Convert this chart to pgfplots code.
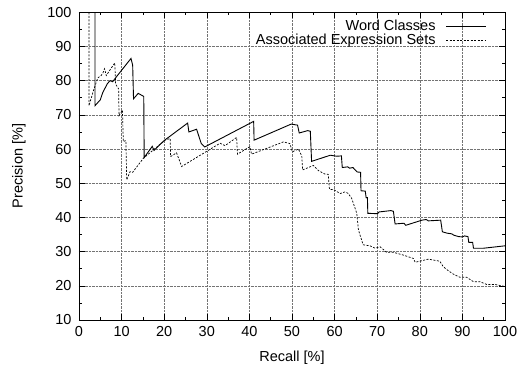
\documentclass[border=0pt]{standalone}
\usepackage{pgfplots}
\pgfplotsset{compat=1.18}
\usepackage{fontspec}
\setmainfont{Liberation Sans}
\begin{document}
\begin{tikzpicture}
\begin{axis}[
  scale only axis, width=426bp, height=307.7bp,
  xmin=0, xmax=100, ymin=10, ymax=100,
  xtick distance=10, ytick distance=10, minor tick num=1,
  tick align=inside,
  major tick length=6bp, minor tick length=3bp,
  grid=major,
  major grid style={densely dotted, black!55, line width=0.6bp},
  axis line style={line width=0.7bp},
  every tick/.style={black, line width=0.6bp},
  /pgf/number format/assume math mode=true,
  ticklabel style={font=\fontsize{14.5bp}{16bp}\selectfont},
  yticklabel style={xshift=-4bp},
  xticklabel style={yshift=-3bp},
  label style={font=\fontsize{14.5bp}{16bp}\selectfont},
  xlabel={Recall [\%]},
  ylabel={Precision [\%]},
  xlabel style={at={(axis description cs:0.5,-0.122)}, anchor=center},
  ylabel style={at={(axis description cs:-0.141,0.5)}, anchor=center},
  legend plot pos=right,
  legend cell align=right,
  legend image code/.code={\path (0bp,0bp); \draw[#1] (10bp,0bp) -- (50bp,0bp);},
  legend style={draw=none, fill=none, at={(axis description cs:0.957,0.975)}, anchor=north east,
    font=\fontsize{14.5bp}{16bp}\selectfont, row sep=1bp, inner sep=0pt,
    nodes={inner sep=0pt, text height=10.5bp, text depth=2.5bp}},
]
\addplot[black, line width=0.9bp] coordinates {
(3.76,100) (3.76,72.7) (5,74.4) (5.6,76.6) (6.7,79.2) (7.3,80) (7.9,79.7) (8.7,81)
(12.2,86.5) (12.6,84.5) (12.8,74.7) (13.9,76.3) (15.2,75.4) (15.3,57.5) (17.2,60.8)
(17.6,59.6) (20,62.5) (25.5,67.6) (25.8,65) (27.6,65.8) (28.7,61.6) (29.5,60.6)
(41,68.1) (41.1,62.6) (49.8,67.3) (51.3,67) (51.7,64.7) (53.7,65.4) (54.3,65.2)
(54.6,56.4) (59,58.2) (60.5,57.9) (61.6,58) (61.8,54.6) (63.1,54.8) (63.5,54.4)
(64.3,54.6) (65.3,53.3) (66.1,53.2) (66.2,47.8) (67.2,47.7) (67.4,45.8) (67.7,45.8)
(67.8,41.2) (70.1,41.1) (70.4,41.6) (73.2,42) (73.8,41.8) (74.2,38.1) (76.3,38.3)
(76.7,37.7) (80.5,39.2) (81.5,39.4) (82,39) (84.9,39.2) (85.3,35.8) (86.4,35.4)
(87.5,35.2) (88,34.8) (89.1,34.4) (90,34.3) (90.5,34.6) (91.3,34.4) (91.5,32.7)
(92.4,32.7) (92.6,31) (95,31) (100,31.7)
};
\addlegendentry{Word Classes}
\addplot[black, line width=0.7bp, dash pattern=on 2bp off 1.5bp] coordinates {
(2.35,100) (2.35,72.7) (3.4,77.1) (4.4,80.8) (5.2,81.5) (5.6,82.2) (6,83.5) (6.4,81.5)
(7.2,83) (8.4,85.2) (8.6,79) (9.3,77.6) (9.4,69.8) (10.2,71.4) (10.4,62.2) (11,62.5)
(11.2,51) (12,53.4) (12.6,53.2) (15.1,57.3) (17.4,59.7) (20.2,62.6) (21.4,63.1)
(21.5,57.8) (22.9,58.9) (24.1,54.9) (33.1,61.7) (34.3,61) (37,63.4) (37.2,58.5)
(40.1,60.7) (40.5,58.5) (48,62.1) (49.5,61.6) (50.1,59.2) (51.5,60) (52.3,58)
(52.5,53.9) (55,55.2) (56.2,53.7) (57.7,52.7) (58.5,52.6) (58.8,48.2) (59.7,48.2)
(61.3,47) (62.5,47.5) (63.2,47) (64,45.6) (64.8,42.7) (65.2,41.2) (65.6,36.3)
(66.7,32) (68.3,31.7) (69.5,31) (70.7,31.4) (72.2,29.8) (73.8,29.8) (76.1,29)
(78.5,28) (78.9,26.9) (80,27.2) (82,27.8) (84.7,27.2) (85.5,25.6) (86.7,24.4)
(87.9,23.4) (89.4,22.5) (91,22.5) (92.6,21.2) (94.1,21.2) (95.7,20.4) (97.6,20.4)
(100,19.8)
};
\addlegendentry{Associated Expression Sets}
\end{axis}
\path[use as bounding box] ([shift={(-79bp,-47bp)}]current axis.south west) rectangle ([shift={(22bp,12.3bp)}]current axis.north east);
\end{tikzpicture}
\end{document}
